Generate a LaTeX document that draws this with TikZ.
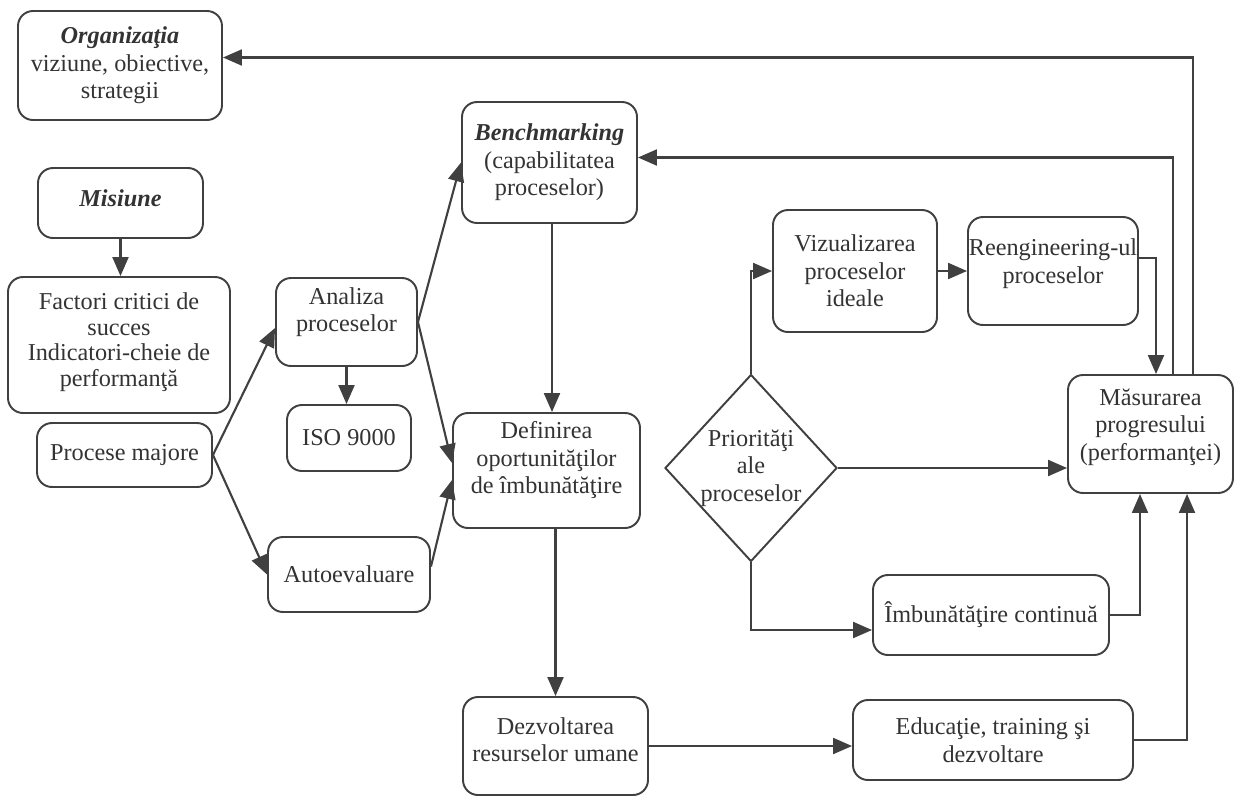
\documentclass[tikz,border=0pt]{standalone}
\usepackage{fontspec}
\setmainfont{Liberation Serif}
\usetikzlibrary{arrows.meta,shapes.geometric,calc}
\definecolor{ink}{HTML}{404040}
\definecolor{txt}{HTML}{333333}
\begin{document}
\begin{tikzpicture}[x=0.02cm,y=-0.02cm,
  box/.style={draw=ink, line width=1.1pt, rounded corners=0.3cm, align=center, inner sep=0pt, text=txt,
    font=\fontsize{13.8}{15.6}\selectfont},
  sz/.style 2 args={minimum width=#1*0.02cm, minimum height=#2*0.02cm},
  con/.style={draw=ink, line width=1.2pt, -{Triangle[length=0.38cm,width=0.32cm]}}]
\useasboundingbox[fill=white] (0,0) rectangle (1236,798);

\node[box, sz={204}{109}] (org) at (120,65.5) {\textbf{\textit{Organizaţia}}\\viziune, obiective,\\strategii};
\node[box, sz={165}{70}, text depth=5.6pt] (mis) at (120.5,203) {\textbf{\textit{Misiune}}};
\node[box, sz={222}{136}, text depth=6pt, font=\fontsize{13.8}{14.6}\selectfont] (fac) at (119,345) {Factori critici de\\succes\\Indicatori-cheie de\\performanţă};
\node[box, sz={175}{64}] (pm) at (124.5,455) {Procese majore};
\node[box, sz={141}{88}, text depth=14.3pt] (ana) at (346.5,322) {Analiza\\proceselor};
\node[box, sz={124}{66}] (iso) at (349,438) {ISO 9000};
\node[box, sz={162}{75}] (auto) at (349,574.5) {Autoevaluare};
\node[box, sz={175}{121}] (bench) at (549.5,162.5) {\textbf{\textit{Benchmarking}}\\(capabilitatea\\proceselor)};
\node[box, sz={187}{115}, text depth=14.8pt] (def) at (546.5,470.5) {Definirea\\oportunităţilor\\de îmbunătăţire};
\node[box, sz={185}{98}, text depth=7.5pt] (dez) at (555.5,746) {Dezvoltarea\\resurselor umane};
\node[box, sz={164}{122}] (viz) at (855,271) {Vizualizarea\\proceselor\\ideale};
\node[box, sz={170}{108}, text depth=11.4pt] (reeng) at (1053,271) {Reengineering-ul\\proceselor};
\node[box, sz={165}{118}, text depth=10.9pt] (mas) at (1150.5,434) {Măsurarea\\progresului\\(performanţei)};
\node[box, diamond, rounded corners=0pt, sz={172}{187}] (dia) at (751,468) {\makebox[0pt]{Priorităţi}\\\makebox[0pt]{ale}\\\makebox[0pt]{proceselor}};
\node[box, sz={236}{80}] (imb) at (991,615) {Îmbunătăţire continuă};
\node[box, sz={280}{80}] (edu) at (993,740) {Educaţie, training şi\\dezvoltare};

\draw[con] (mis.south) -- (mis.south |- fac.north);
\draw[con] (pm.east) -- ($(ana.west)+(0,6)$);
\draw[con] (pm.east) -- (auto.west);
\draw[con] (ana.south) -- (ana.south |- iso.north);
\draw[con] (ana.east) -- (bench.west);
\draw[con] (ana.east) -- ($(def.west)+(0,-7.5)$);
\draw[con] ($(auto.east)+(0,-8)$) -- ($(def.west)+(0,9.5)$);
\draw[con] ($(bench.south)+(2.5,0)$) -- ($(def.north)+(5.5,0)$);
\draw[con] (def.south -| dez.north) -- (dez.north);
\draw[con] (dez.east) -- (dez.east -| edu.west);
\draw[con] (edu.east) -| ($(mas.south)+(36.5,0)$);
\draw[con] (imb.east) -| ($(mas.south)+(-10.5,0)$);
\draw[con] (dia.south) |- ($(imb.west)+(0,15)$);
\draw[con] (dia.north) |- (viz.west);
\draw[con] (dia.east) -- (dia.east -| mas.west);
\draw[con] (viz.east) -- (reeng.west);
\draw[con] ($(reeng.east)+(0,-13)$) -| ($(mas.north)+(5.5,0)$);
\draw[con] ($(mas.north)+(22.5,0)$) |- ($(bench.east)+(0,-5)$);
\draw[con] ($(mas.north)+(42.5,0)$) |- ($(org.east)+(0,-8)$);
\end{tikzpicture}
\end{document}
